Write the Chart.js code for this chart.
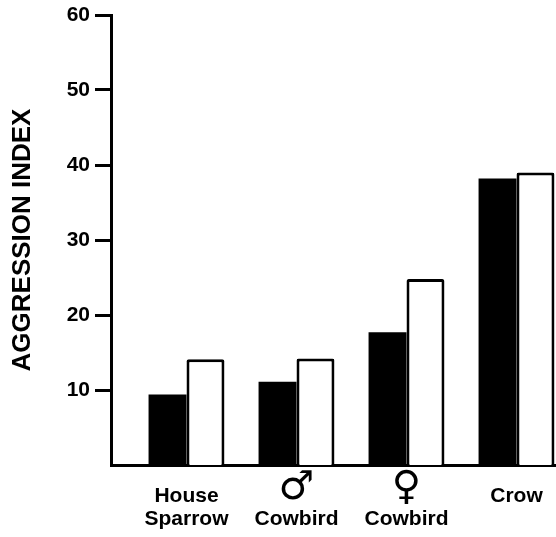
<!DOCTYPE html>
<html>
<head>
<meta charset="utf-8">
<script src="https://cdn.jsdelivr.net/npm/chart.js@4/dist/chart.umd.min.js"></script>
<style>
  html, body { margin: 0; padding: 0; background: #fff; overflow: hidden; }
  #wrap { width: 556px; height: 537px; }
</style>
</head>
<body>
<div id="wrap"><canvas id="c" width="556" height="537"></canvas></div>
<script>
// Species groups: name lines under each group, sex symbol drawn above the name
const speciesNames = [['House', 'Sparrow'], ['', 'Cowbird'], ['', 'Cowbird'], ['Crow']];
const sexSymbols = ['', '\u2642', '\u2640', ''];
const groupPositions = [1, 2, 3, 4];

// Aggression index per species: filled bars and open bars
const filledValues = [9.4, 11.1, 17.7, 38.2];
const openValues = [14.1, 14.2, 24.8, 39.0];

// Labelled y ticks
const yTicks = [10, 20, 30, 40, 50, 60];

const FONT = "'Liberation Sans', Arial, sans-serif";
const SYMBOL_FONT = "'DejaVu Sans', sans-serif";

const toPoints = values => groupPositions.map((x, i) => ({ x, y: values[i] }));

// Larger sex symbols in the first label line of the cowbird groups
const sexSymbolPlugin = {
  id: 'sexSymbols',
  afterDraw(chart) {
    const { ctx, scales: { x } } = chart;
    ctx.save();
    ctx.fillStyle = '#000';
    ctx.textAlign = 'center';
    ctx.textBaseline = 'middle';
    ctx.font = `40px ${SYMBOL_FONT}`;
    groupPositions.forEach((pos, i) => {
      if (!sexSymbols[i]) return;
      ctx.fillText(sexSymbols[i], x.getPixelForValue(pos), x.top + 24);
    });
    ctx.restore();
  }
};

new Chart(document.getElementById('c'), {
  type: 'bar',
  data: {
    datasets: [
      {
        data: toPoints(filledValues),
        backgroundColor: '#000',
        borderColor: '#000',
        borderWidth: 0
      },
      {
        data: toPoints(openValues),
        backgroundColor: '#fff',
        borderColor: '#000',
        borderWidth: 3,
        borderRadius: 2
      }
    ]
  },
  options: {
    responsive: false,
    animation: false,
    devicePixelRatio: 1,
    categoryPercentage: 0.69,
    barPercentage: 1,
    layout: { padding: { top: 15, right: 0, bottom: 0, left: 0 } },
    plugins: {
      legend: { display: false },
      tooltip: { enabled: false }
    },
    scales: {
      x: {
        type: 'linear',
        min: 0.3136,
        max: 4.359,
        offset: false,
        afterBuildTicks: s => { s.ticks = groupPositions.map(v => ({ value: v })); },
        afterFit: s => { s.height = 72; s.paddingLeft = 0; s.paddingRight = 0; },
        grid: { display: false, drawTicks: false },
        border: { display: true, color: '#000', width: 3 },
        ticks: {
          autoSkip: false,
          maxRotation: 0,
          padding: 20,
          color: '#000',
          font: { family: FONT, size: 21, weight: 'bold', lineHeight: 1.1 },
          callback: v => speciesNames[groupPositions.indexOf(v)] || ''
        }
      },
      y: {
        min: 0,
        max: 60,
        afterBuildTicks: s => { s.ticks = yTicks.map(v => ({ value: v })); },
        afterFit: s => { s.width = 111; s.paddingTop = 0; s.paddingBottom = 0; },
        grid: {
          display: true,
          drawOnChartArea: false,
          drawTicks: true,
          tickLength: 16,
          tickWidth: 3,
          tickColor: '#000'
        },
        border: { display: true, color: '#000', width: 3 },
        ticks: {
          padding: 5,
          color: '#000',
          font: { family: FONT, size: 21, weight: 'bold' }
        },
        title: {
          display: true,
          text: 'AGGRESSION INDEX',
          color: '#000',
          padding: { top: 7, bottom: 0 },
          font: { family: FONT, size: 26, weight: 'bold' }
        }
      }
    }
  },
  plugins: [sexSymbolPlugin]
});
</script>
</body>
</html>
